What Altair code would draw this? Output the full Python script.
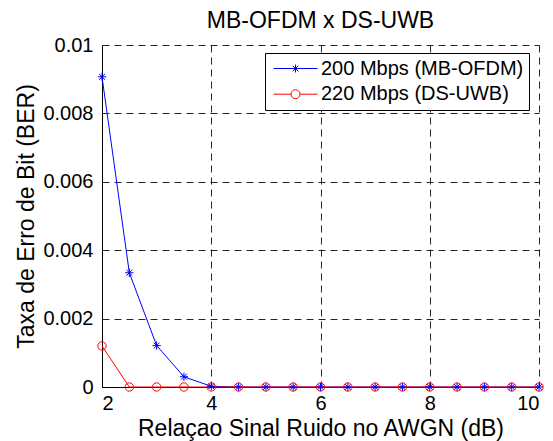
import altair as alt
import pandas as pd

snr = [2, 2.5, 3, 3.5, 4, 4.5, 5, 5.5, 6, 6.5, 7, 7.5, 8, 8.5, 9, 9.5, 10]
ber_mbofdm = [0.00907, 0.00334, 0.00121, 0.0003, 0.00002, 0, 0, 0, 0, 0, 0, 0, 0, 0, 0, 0, 0]
ber_dsuwb = [0.0012, 0, 0, 0, 0, 0, 0, 0, 0, 0, 0, 0, 0, 0, 0, 0, 0]
series_names = ["200 Mbps (MB-OFDM)", "220 Mbps (DS-UWB)"]
series_colors = ["#0000ff", "#ff0000"]
y_ticks = [0, 0.002, 0.004, 0.006, 0.008, 0.01]
x_ticks = [2, 4, 6, 8, 10]

rows = []
for name, vals in zip(series_names, [ber_mbofdm, ber_dsuwb]):
    for i, (x, y) in enumerate(zip(snr, vals)):
        rows.append({"snr": x, "ber": y, "series": name, "order": i})
df = pd.DataFrame(rows)

FONT = "Liberation Sans"
ASTERISK = "M-1,0H1M0,-1V1M-0.7,-0.7L0.7,0.7M-0.7,0.7L0.7,-0.7"
LEG_STAR = "M-0.7,0H3.7M1.1,0H1.9M1.5,-0.4V0.4M1.22,-0.28L1.78,0.28M1.22,0.28L1.78,-0.28"
LEG_CIRC = "M-0.7,0H1.05M1.95,0H3.7M1.95,0A0.45,0.45 0 1,1 1.05,0A0.45,0.45 0 1,1 1.95,0"

x_enc = alt.X("snr:Q", scale=alt.Scale(domain=[2, 10], nice=False, zero=False),
              axis=alt.Axis(values=x_ticks, format="d", title="Relaçao Sinal Ruido no AWGN (dB)",
                            labelPadding=6, titlePadding=4))
y_enc = alt.Y("ber:Q", scale=alt.Scale(domain=[0, 0.01], nice=False),
              axis=alt.Axis(values=y_ticks, format="~g", title="Taxa de Erro de Bit (BER)",
                            labelPadding=9, titlePadding=4))

color_scale = alt.Scale(domain=series_names, range=series_colors)

base = alt.Chart(df)

lines = base.mark_line(strokeWidth=1).encode(
    x=x_enc, y=y_enc,
    color=alt.Color("series:N", scale=color_scale, legend=None),
    detail="series:N",
    order="order:Q",
)

points = base.mark_point(filled=False, strokeWidth=1, size=70, opacity=1).encode(
    x=x_enc, y=y_enc,
    color=alt.Color("series:N", scale=color_scale, legend=None),
    shape=alt.Shape("series:N", scale=alt.Scale(domain=series_names, range=[ASTERISK, "circle"]), legend=None),
)

legend_props = dict(
    title=None, orient="none", legendX=163, legendY=8,
    strokeColor="black", fillColor="white", padding=5,
    labelFont=FONT, labelFontSize=20, labelColor="black", labelLimit=400,
    symbolSize=400, symbolStrokeWidth=1, labelOffset=30, rowPadding=4.7,
    symbolOpacity=1, cornerRadius=0,
)

legend_layer = base.transform_filter("false").mark_point(filled=False, strokeWidth=1).encode(
    x=x_enc, y=y_enc,
    color=alt.Color("series:N", scale=color_scale, legend=alt.Legend(**legend_props)),
    shape=alt.Shape("series:N", scale=alt.Scale(domain=series_names, range=[LEG_STAR, LEG_CIRC]),
                    legend=alt.Legend(**legend_props)),
)

chart = alt.layer(lines, points, legend_layer).resolve_scale(
    color="independent", shape="independent"
).properties(
    width=437, height=342,
    autosize=alt.AutoSizeParams(type="none"),
    padding={"left": 94, "top": 37, "right": 6, "bottom": 54},
    title=alt.TitleParams("MB-OFDM x DS-UWB", font=FONT, fontSize=23, fontWeight="normal",
                          color="black", anchor="middle", offset=2),
).configure_view(stroke=None).configure_axis(
    labelFont=FONT, titleFont=FONT, labelFontSize=20, titleFontSize=23,
    labelColor="black", titleColor="black", titleFontWeight="normal",
    domainColor="black", domainWidth=1, ticks=False,
    grid=True, gridColor="black", gridDash=[7, 5], gridWidth=1, gridOpacity=0.85,
)

chart.save("out.html", embed_options={"renderer": "svg", "actions": False})
